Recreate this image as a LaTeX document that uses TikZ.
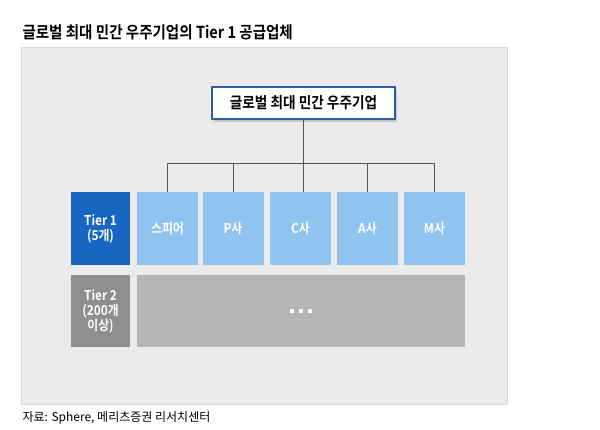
\documentclass[tikz,border=0pt]{standalone}
\usepackage{fontspec}
\setmainfont{Noto Sans CJK KR}[BoldFont={Noto Sans CJK KR Bold}]
\newfontfamily\krnarrow{Noto Sans CJK KR}[BoldFont={Noto Sans CJK KR Bold},FakeStretch=0.88]
\usepackage{tikz}
\usetikzlibrary{shadows}
\definecolor{panelgray}{HTML}{EBEBEB}
\definecolor{panelline}{HTML}{D9D9D9}
\definecolor{tierblue}{HTML}{1767C2}
\definecolor{lightblue}{HTML}{91C3F1}
\definecolor{tiergray}{HTML}{8E8E8E}
\definecolor{boxgray}{HTML}{B5B5B5}
\definecolor{topframe}{HTML}{2B5FA6}
\definecolor{linkgray}{HTML}{555555}
\tikzset{
  tierbox/.style={minimum width=59pt,minimum height=73pt,inner sep=0pt,
    text=white,font=\krnarrow\fontsize{13.5}{15}\selectfont\bfseries,align=center},
  firmbox/.style={fill=lightblue,minimum width=61pt,minimum height=73pt,inner sep=0pt,
    text=white,font=\krnarrow\fontsize{13.5}{15}\selectfont\bfseries},
  link/.style={draw=linkgray,line width=0.8pt}
}
\begin{document}
\begin{tikzpicture}[x=1pt,y=-1pt]
\useasboundingbox (0,0) rectangle (600,430);
\node[anchor=west,font=\krnarrow\fontsize{16.5}{18}\selectfont\bfseries] (title) at (19,32) {글로벌 최대 민간 우주기업의 Tier 1 공급업체};

\draw[fill=panelgray,draw=panelline] (21,47) rectangle (507,404);

% top level
\node[draw=topframe,fill=white,line width=1.5pt,minimum width=183pt,minimum height=32pt,
  font=\krnarrow\fontsize{15.5}{17}\selectfont\bfseries,
  drop shadow={opacity=0.35,shadow xshift=2pt,shadow yshift=-3pt}] (top) at (303.5,103) {글로벌 최대 민간 우주기업};

% tier 1
\node[tierbox,fill=tierblue] (tier1) at (100.5,228.5) {Tier 1\\(5개)};
\node[firmbox] (sphere) at (167.5,228.5) {스피어};
\node[firmbox] (p) at (233,228.5) {P사};
\node[firmbox] (c) at (300.5,228.5) {C사};
\node[firmbox] (a) at (367.5,228.5) {A사};
\node[firmbox] (m) at (434.5,228.5) {M사};

% tier 2
\node[tierbox,fill=tiergray,minimum height=72pt] (tier2) at (100.5,311) {Tier 2\\(200개\\이상)};
\node[fill=boxgray,minimum width=328pt,minimum height=72pt,inner sep=0pt] (rest) at (301,311)
  {\color{white}\rule{4.5pt}{4.5pt}\hspace{4.5pt}\rule{4.5pt}{4.5pt}\hspace{4.5pt}\rule{4.5pt}{4.5pt}};

% links
\coordinate (bar) at (0,163);
\draw[link] (top.south) -- (top.south |- c.north);
\draw[link] (sphere.north |- bar) -- (m.north |- bar);
\foreach \f in {sphere,p,a,m}
  \draw[link] (\f.north |- bar) -- (\f.north);

\node[anchor=west,font=\fontsize{12}{14}\selectfont] (source) at (19,418) {자료: Sphere, 메리츠증권 리서치센터};
\end{tikzpicture}
\end{document}
